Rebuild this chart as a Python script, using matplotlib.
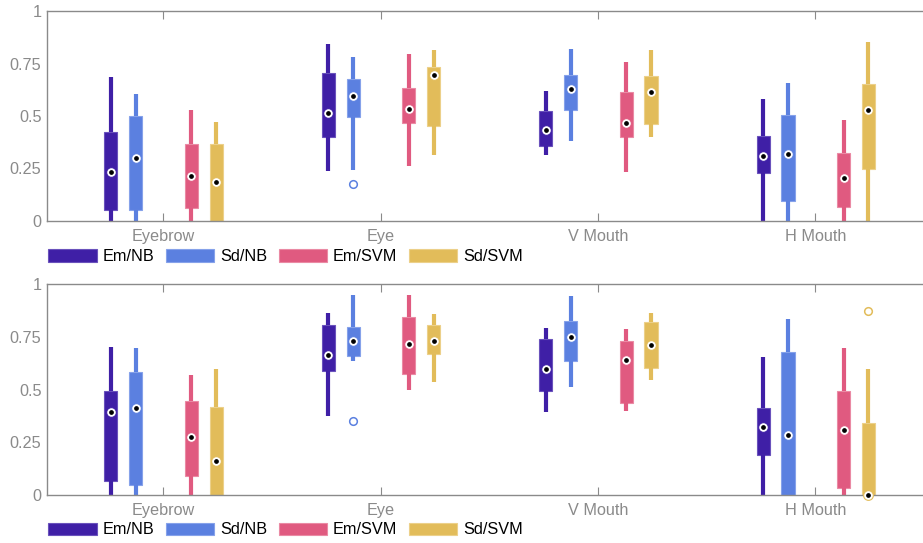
import numpy as np
import matplotlib
matplotlib.use("Agg")
import matplotlib.pyplot as plt
from matplotlib.patches import Patch

plt.rcParams['font.family'] = ['Liberation Sans', 'DejaVu Sans']

categories = ['Eyebrow', 'Eye', 'V Mouth', 'H Mouth']
methods = ['Em/NB', 'Sd/NB', 'Em/SVM', 'Sd/SVM']
colors = ['#3f1fa6', '#5b80e0', '#e05a80', '#e2bc5a']
edge_colors = ['#6a52bc', '#86a2ea', '#ea8aa4', '#ecd08a']

# per method: [whisker low, q1, median, q3, whisker high] for each category
top_stats = {
    'Em/NB':  [[0.0, 0.051, 0.235, 0.423, 0.685], [0.238, 0.399, 0.512, 0.705, 0.843],
               [0.314, 0.355, 0.434, 0.523, 0.620], [0.0, 0.228, 0.309, 0.407, 0.583]],
    'Sd/NB':  [[0.0, 0.054, 0.298, 0.499, 0.607], [0.241, 0.493, 0.597, 0.677, 0.781],
               [0.382, 0.529, 0.628, 0.693, 0.821], [0.0, 0.095, 0.319, 0.504, 0.659]],
    'Em/SVM': [[0.0, 0.060, 0.216, 0.369, 0.529], [0.260, 0.469, 0.534, 0.631, 0.796],
               [0.231, 0.401, 0.468, 0.612, 0.759], [0.0, 0.065, 0.204, 0.322, 0.479]],
    'Sd/SVM': [[0.0, 0.0, 0.187, 0.366, 0.471], [0.315, 0.452, 0.693, 0.732, 0.815],
               [0.398, 0.461, 0.615, 0.689, 0.815], [0.0, 0.246, 0.529, 0.651, 0.853]],
}
top_outliers = {'Em/NB': [[], [], [], []], 'Sd/NB': [[], [0.174], [], []],
                'Em/SVM': [[], [], [], []], 'Sd/SVM': [[], [], [], []]}

bottom_stats = {
    'Em/NB':  [[0.0, 0.068, 0.392, 0.494, 0.700], [0.373, 0.589, 0.665, 0.807, 0.863],
               [0.393, 0.493, 0.596, 0.741, 0.791], [0.0, 0.188, 0.322, 0.411, 0.654]],
    'Sd/NB':  [[0.0, 0.047, 0.411, 0.583, 0.697], [0.637, 0.659, 0.728, 0.795, 0.949],
               [0.513, 0.637, 0.747, 0.826, 0.941], [0.0, 0.0, 0.284, 0.679, 0.833]],
    'Em/SVM': [[0.0, 0.088, 0.273, 0.444, 0.569], [0.498, 0.573, 0.716, 0.842, 0.949],
               [0.397, 0.434, 0.640, 0.730, 0.787], [0.0, 0.032, 0.306, 0.494, 0.698]],
    'Sd/SVM': [[0.0, 0.0, 0.163, 0.415, 0.597], [0.536, 0.667, 0.728, 0.807, 0.859],
               [0.547, 0.603, 0.709, 0.821, 0.864], [0.0, 0.0, 0.0, 0.341, 0.599]],
}
bottom_outliers = {'Em/NB': [[], [], [], []], 'Sd/NB': [[], [0.352], [], []],
                   'Em/SVM': [[], [], [], []], 'Sd/SVM': [[], [], [], [0.870]]}

offsets = [-0.24, -0.126, 0.13, 0.244]
box_w = 0.06
gray = '#8a8a8a'


def draw_panel(ax, stats, outliers):
    for m, name in enumerate(methods):
        bstats = []
        for c in range(len(categories)):
            lo, q1, med, q3, hi = stats[name][c]
            bstats.append(dict(whislo=lo, q1=q1, med=med, q3=q3, whishi=hi,
                               fliers=outliers[name][c]))
        pos = np.arange(1, len(categories) + 1) + offsets[m]
        ax.bxp(bstats, positions=pos, widths=box_w, patch_artist=True,
               showcaps=False, manage_ticks=False,
               boxprops=dict(facecolor=colors[m], edgecolor=edge_colors[m], linewidth=0.8),
               whiskerprops=dict(color=colors[m], linewidth=3.0, solid_capstyle='butt'),
               medianprops=dict(linestyle='none'),
               flierprops=dict(marker='o', markerfacecolor='none',
                               markeredgecolor=colors[m], markersize=5.5,
                               markeredgewidth=1.1))
        meds = [s['med'] for s in bstats]
        ax.plot(pos, meds, 'o', ms=7, mfc='white', mec=colors[m], mew=0.8,
                zorder=5, clip_on=False)
        ax.plot(pos, meds, 'o', ms=2.4, color='black', zorder=6, clip_on=False)

    ax.set_xlim(0.466, 4.495)
    ax.set_ylim(0, 1)
    ax.set_xticks(np.arange(1, len(categories) + 1))
    ax.set_xticklabels(categories)
    ax.set_yticks([0, 0.25, 0.5, 0.75, 1])
    ax.set_yticklabels(['0', '0.25', '0.5', '0.75', '1'])
    ax.tick_params(axis='x', direction='in', length=6, width=0.8, color=gray,
                   labelcolor=gray, labelsize=11.7, pad=6, top=True)
    ax.tick_params(axis='y', length=0, labelcolor=gray, labelsize=11.7, pad=4)
    for s in ['top', 'bottom', 'left']:
        ax.spines[s].set_color(gray)
        ax.spines[s].set_linewidth(1.0)
    ax.spines['right'].set_visible(False)


fig = plt.figure(figsize=(9.23, 5.43), dpi=100)
ax1 = fig.add_axes([47 / 923, (543 - 221) / 543, (923 - 47) / 923, 210 / 543])
ax2 = fig.add_axes([47 / 923, (543 - 495) / 543, (923 - 47) / 923, 211 / 543])

draw_panel(ax1, top_stats, top_outliers)
draw_panel(ax2, bottom_stats, bottom_outliers)

handles = [Patch(facecolor=colors[i], edgecolor=edge_colors[i], linewidth=0.8)
           for i in range(len(methods))]
for yc in [(543 - 256.5) / 543, (543 - 530) / 543]:
    fig.legend(handles, methods, loc='center left', bbox_to_anchor=(48 / 923, yc),
               ncol=4, frameon=False, fontsize=11.7, handlelength=3.0,
               handleheight=0.8, handletextpad=0.35, columnspacing=0.7,
               borderpad=0, borderaxespad=0)

fig.savefig('out.png', dpi=100)
